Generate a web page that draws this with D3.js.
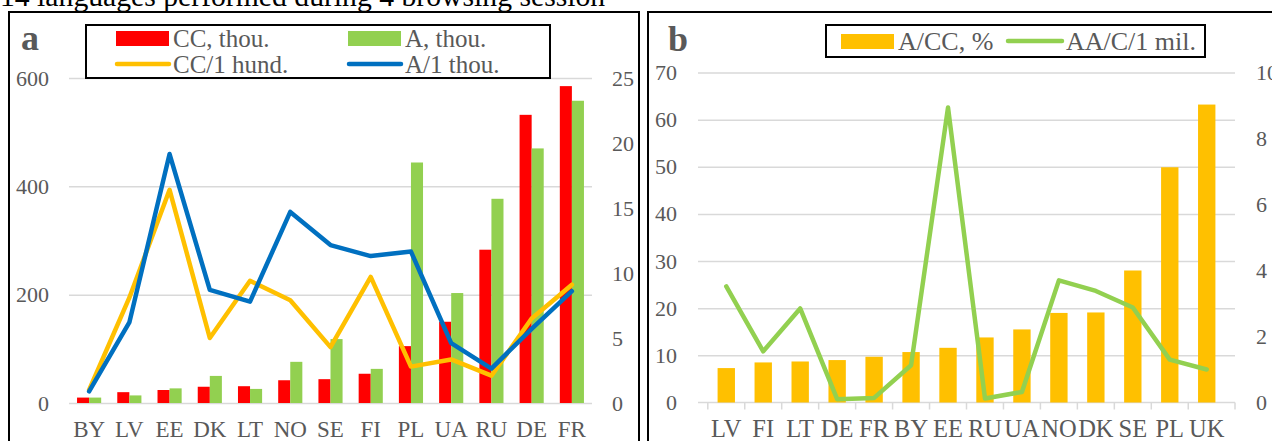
<!DOCTYPE html>
<html lang="en">
    <head>
        <meta charset="utf-8">
        <title>Browsing session chart</title>
        <script src="https://d3js.org/d3.v7.min.js"></script>
        <style>
            body { margin: 0; background: #fff; }
            svg text { font-family: "Liberation Serif", "Times New Roman", serif !important; }
        </style>
    </head>
    <body>
        <div class="chart"></div>
        <script type="text/javascript">
            // panel a data
            const catsA = ['BY', 'LV', 'EE', 'DK', 'LT', 'NO', 'SE', 'FI', 'PL', 'UA', 'RU', 'DE', 'FR'];
            const ccThou = [10, 20, 24, 30, 31, 42, 44, 54, 105, 150, 283, 532, 585];
            const aThou = [10, 14, 27, 50, 26, 76, 118, 63, 444, 203, 377, 470, 558];
            const ccPerHund = [1.0, 8.1, 16.4, 5.0, 9.4, 7.9, 4.3, 9.7, 2.8, 3.35, 2.1, 6.5, 9.1];
            const aPerThou = [0.9, 6.2, 19.15, 8.7, 7.8, 14.7, 12.15, 11.3, 11.65, 4.6, 2.65, 5.7, 8.6];
            const leftTicksA = [0, 200, 400, 600];
            const rightTicksA = [0, 5, 10, 15, 20, 25];

            // panel b data
            const catsB = ['LV', 'FI', 'LT', 'DE', 'FR', 'BY', 'EE', 'RU', 'UA', 'NO', 'DK', 'SE', 'PL', 'UK'];
            const acPct = [7.3, 8.5, 8.7, 9.0, 9.7, 10.7, 11.6, 13.8, 15.5, 19.0, 19.1, 28.0, 49.9, 63.2];
            const aacPerMil = [3.52, 1.55, 2.85, 0.1, 0.14, 1.13, 8.94, 0.12, 0.32, 3.7, 3.38, 2.88, 1.3, 1.0];
            const leftTicksB = [0, 10, 20, 30, 40, 50, 60, 70];
            const rightTicksB = [0, 2, 4, 6, 8, 10];

            const red = '#FF0000', green = '#92D050', orange = '#FFC000', blue = '#0070C0';
            const grey = '#595959', grid = '#D9D9D9';
            const serif = '"Liberation Serif", "Times New Roman", serif';

            const width = 1272;
            const height = 441;
            const svg = d3.select('.chart')
                .append('svg')
                .attr('width', width)
                .attr('height', height);

            // tick label styling used by all axes
            function styleLabels(g, size) {
                g.select('.domain').remove();
                g.attr('font-family', null).attr('font-size', null);
                g.selectAll('text')
                    .style('font-family', serif)
                    .style('font-size', (size || 22) + 'px')
                    .attr('fill', grey);
            }

            // title, cut at the top edge
            svg.append('text')
                .attr('x', 0)
                .attr('y', 6)
                .style('font-size', '29.7px')
                .attr('fill', '#000')
                .text('14 languages performed during 4 browsing session');

            // frames
            svg.append('rect')
                .attr('x', 9).attr('y', 12).attr('width', 630).attr('height', 460)
                .attr('fill', 'none').attr('stroke', '#000').attr('stroke-width', 2);
            svg.append('rect')
                .attr('x', 648).attr('y', 12).attr('width', 660).attr('height', 460)
                .attr('fill', 'none').attr('stroke', '#000').attr('stroke-width', 2);

            // ---------- panel a ----------
            const xA = d3.scaleBand().domain(catsA).range([69, 592]).paddingInner(0.4).paddingOuter(0.2);
            const xA1 = d3.scaleBand().domain(['cc', 'a']).range([0, xA.bandwidth()]);
            const yA = d3.scaleLinear().domain([0, 600]).range([403, 78]);
            const yA2 = d3.scaleLinear().domain([0, 25]).range([403, 78]);

            const gA = svg.append('g');

            gA.append('g')
                .attr('transform', 'translate(69,0)')
                .call(d3.axisLeft(yA).tickValues(leftTicksA).tickSize(-523).tickFormat(''))
                .call(g => g.select('.domain').remove())
                .call(g => g.selectAll('line').attr('stroke', grid).attr('stroke-width', 1.5));

            gA.append('g')
                .attr('transform', 'translate(69,0)')
                .call(d3.axisLeft(yA).tickValues(leftTicksA).tickSize(0).tickPadding(20))
                .call(styleLabels);

            gA.append('g')
                .attr('transform', 'translate(592,0)')
                .call(d3.axisRight(yA2).tickValues(rightTicksA).tickSize(0).tickPadding(20))
                .call(styleLabels);

            gA.append('g')
                .attr('transform', 'translate(0,403)')
                .call(d3.axisBottom(xA).tickSize(0).tickPadding(18))
                .call(styleLabels, 23);

            const barsA = catsA.map((c, i) => ({cat: c, cc: ccThou[i], a: aThou[i]}));
            const groups = gA.selectAll('.grp')
                .data(barsA)
                .enter()
                .append('g')
                .attr('transform', d => 'translate(' + xA(d.cat) + ',0)');

            groups.selectAll('rect')
                .data(d => [{k: 'cc', v: d.cc}, {k: 'a', v: d.a}])
                .enter()
                .append('rect')
                .attr('x', d => xA1(d.k))
                .attr('width', xA1.bandwidth())
                .attr('y', d => yA(d.v))
                .attr('height', d => yA(0) - yA(d.v))
                .attr('fill', d => d.k === 'cc' ? red : green);

            const lineA = d3.line()
                .x((d, i) => xA(catsA[i]) + xA.bandwidth() / 2)
                .y(d => yA2(d));

            gA.append('path')
                .datum(ccPerHund)
                .attr('d', lineA)
                .attr('fill', 'none')
                .attr('stroke', orange)
                .attr('stroke-width', 4.5)
                .attr('stroke-linejoin', 'round')
                .attr('stroke-linecap', 'round');

            gA.append('path')
                .datum(aPerThou)
                .attr('d', lineA)
                .attr('fill', 'none')
                .attr('stroke', blue)
                .attr('stroke-width', 4.5)
                .attr('stroke-linejoin', 'round')
                .attr('stroke-linecap', 'round');

            // panel letter
            gA.append('text')
                .attr('x', 21).attr('y', 50)
                .style('font-size', '36px').attr('font-weight', 'bold').attr('fill', grey)
                .text('a');

            // legend a
            const legA = gA.append('g');
            legA.append('rect')
                .attr('x', 86).attr('y', 25).attr('width', 464).attr('height', 53)
                .attr('fill', '#fff').attr('stroke', '#000').attr('stroke-width', 2);

            const legItemsA = [
                {name: 'CC, thou.', color: red, type: 'bar', x: 116, y: 38},
                {name: 'A, thou.', color: green, type: 'bar', x: 348, y: 38},
                {name: 'CC/1 hund.', color: orange, type: 'line', x: 116, y: 64},
                {name: 'A/1 thou.', color: blue, type: 'line', x: 348, y: 64}
            ];
            legItemsA.forEach(d => {
                if (d.type === 'bar') {
                    legA.append('rect')
                        .attr('x', d.x).attr('y', d.y - 7).attr('width', 53).attr('height', 15)
                        .attr('fill', d.color);
                } else {
                    legA.append('line')
                        .attr('x1', d.x + 1).attr('x2', d.x + 53).attr('y1', d.y).attr('y2', d.y)
                        .attr('stroke', d.color).attr('stroke-width', 4.5).attr('stroke-linecap', 'round');
                }
                legA.append('text')
                    .attr('x', d.x + 57).attr('y', d.y + 9)
                    .style('font-size', '25px').attr('fill', grey)
                    .text(d.name);
            });

            // ---------- panel b ----------
            const xB = d3.scaleBand().domain(catsB).range([698, 1235]).padding(0.53);
            const yB = d3.scaleLinear().domain([0, 70]).range([402.5, 72.5]);
            const yB2 = d3.scaleLinear().domain([0, 10]).range([402.5, 72.5]);

            const gB = svg.append('g');

            gB.append('g')
                .attr('transform', 'translate(698,0)')
                .call(d3.axisLeft(yB).tickValues(leftTicksB.slice(1)).tickSize(-537).tickFormat(''))
                .call(g => g.select('.domain').remove())
                .call(g => g.selectAll('line').attr('stroke', grid).attr('stroke-width', 1.5));

            gB.append('g')
                .attr('transform', 'translate(698,0)')
                .call(d3.axisLeft(yB).tickValues(leftTicksB).tickSize(0).tickPadding(21))
                .call(styleLabels);

            gB.append('g')
                .attr('transform', 'translate(1235,0)')
                .call(d3.axisRight(yB2).tickValues(rightTicksB).tickSize(0).tickPadding(21))
                .call(styleLabels);

            // category axis with tick marks between bands
            const half = (xB.step() - xB.bandwidth()) / 2;
            const edges = catsB.map(c => xB(c) - half).concat([xB.range()[1]]);
            gB.append('line')
                .attr('x1', 698).attr('x2', 1235).attr('y1', yB(0)).attr('y2', yB(0))
                .attr('stroke', grid).attr('stroke-width', 1.5);
            gB.selectAll('.tk')
                .data(edges)
                .enter()
                .append('line')
                .attr('x1', d => d).attr('x2', d => d)
                .attr('y1', yB(0)).attr('y2', yB(0) + 7)
                .attr('stroke', grid).attr('stroke-width', 1.5);

            gB.append('g')
                .attr('transform', 'translate(0,402.5)')
                .call(d3.axisBottom(xB).tickSize(0).tickPadding(17.5))
                .call(styleLabels, 24.5);

            gB.selectAll('.barb')
                .data(acPct)
                .enter()
                .append('rect')
                .attr('x', (d, i) => xB(catsB[i]))
                .attr('width', xB.bandwidth())
                .attr('y', d => yB(d))
                .attr('height', d => yB(0) - yB(d))
                .attr('fill', orange);

            const lineB = d3.line()
                .x((d, i) => xB(catsB[i]) + xB.bandwidth() / 2)
                .y(d => yB2(d));

            gB.append('path')
                .datum(aacPerMil)
                .attr('d', lineB)
                .attr('fill', 'none')
                .attr('stroke', green)
                .attr('stroke-width', 4.5)
                .attr('stroke-linejoin', 'round')
                .attr('stroke-linecap', 'round');

            gB.append('text')
                .attr('x', 668).attr('y', 51)
                .style('font-size', '36px').attr('font-weight', 'bold').attr('fill', grey)
                .text('b');

            // legend b
            const legB = gB.append('g');
            legB.append('rect')
                .attr('x', 826).attr('y', 25).attr('width', 379).attr('height', 32)
                .attr('fill', '#fff').attr('stroke', '#000').attr('stroke-width', 2);
            legB.append('rect')
                .attr('x', 841).attr('y', 34).attr('width', 53).attr('height', 15)
                .attr('fill', orange);
            legB.append('text')
                .attr('x', 898).attr('y', 50)
                .style('font-size', '26px').attr('fill', grey)
                .text('A/CC, %');
            legB.append('line')
                .attr('x1', 1008).attr('x2', 1062).attr('y1', 41).attr('y2', 41)
                .attr('stroke', green).attr('stroke-width', 4.5).attr('stroke-linecap', 'round');
            legB.append('text')
                .attr('x', 1066).attr('y', 50)
                .style('font-size', '26px').attr('fill', grey)
                .text('AA/C/1 mil.');
        </script>
    </body>
</html>
